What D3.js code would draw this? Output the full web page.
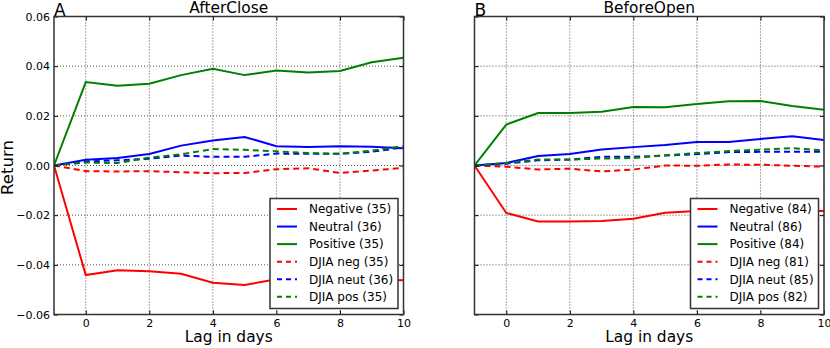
<!DOCTYPE html>
<html>
<head>
<meta charset="utf-8">
<style>
  body { margin: 0; background: #fff; }
  svg text { font-family: "DejaVu Sans", sans-serif; fill: #000; }
  .grid line { stroke: #000; stroke-width: 0.8; stroke-dasharray: 1,2; opacity: 0.85; }
</style>
</head>
<body>
<svg id="chart" width="830" height="348"></svg>
<script src="https://cdn.jsdelivr.net/npm/d3@7"></script>
<script>
// lag days
const lags = [-1, 0, 1, 2, 3, 4, 5, 6, 7, 8, 9, 10]
const xTicks = [0, 2, 4, 6, 8, 10]
const yTicks = [-0.06, -0.04, -0.02, 0.00, 0.02, 0.04, 0.06]

// panel A: AfterClose
const acNegative = [0, -0.0441, -0.0422, -0.0426, -0.0436, -0.0472, -0.0481, -0.0458, -0.0460, -0.0463, -0.0460, -0.0462]
const acNeutral  = [0, 0.0023, 0.0030, 0.0046, 0.0080, 0.0101, 0.0115, 0.0078, 0.0074, 0.0078, 0.0076, 0.0069]
const acPositive = [0, 0.0336, 0.0321, 0.0329, 0.0364, 0.0390, 0.0364, 0.0383, 0.0375, 0.0381, 0.0416, 0.0434]
const acDjiaNeg  = [0, -0.0023, -0.0024, -0.0023, -0.0027, -0.0031, -0.0030, -0.0015, -0.0011, -0.0030, -0.0020, -0.0010]
const acDjiaNeut = [0, 0.0016, 0.0021, 0.0027, 0.0040, 0.0035, 0.0035, 0.0048, 0.0047, 0.0047, 0.0055, 0.0073]
const acDjiaPos  = [0, 0.0012, 0.0010, 0.0032, 0.0045, 0.0066, 0.0063, 0.0057, 0.0050, 0.0047, 0.0060, 0.0078]

// panel B: BeforeOpen
const boNegative = [0, -0.0191, -0.0225, -0.0225, -0.0223, -0.0214, -0.0190, -0.0183, -0.0181, -0.0181, -0.0182, -0.0183]
const boNeutral  = [0, 0.0010, 0.0038, 0.0046, 0.0064, 0.0074, 0.0083, 0.0095, 0.0095, 0.0107, 0.0118, 0.0103]
const boPositive = [0, 0.0165, 0.0211, 0.0211, 0.0216, 0.0236, 0.0235, 0.0248, 0.0259, 0.0260, 0.0240, 0.0224]
const boDjiaNeg  = [0, -0.0005, -0.0016, -0.0013, -0.0024, -0.0016, 0.0000, -0.0001, 0.0004, 0.0003, -0.0001, -0.0005]
const boDjiaNeut = [0, 0.0007, 0.0021, 0.0024, 0.0035, 0.0035, 0.0040, 0.0046, 0.0054, 0.0055, 0.0055, 0.0055]
const boDjiaPos  = [0, 0.0010, 0.0024, 0.0024, 0.0028, 0.0030, 0.0041, 0.0050, 0.0058, 0.0064, 0.0070, 0.0061]

const seriesNames = ["Negative", "Neutral", "Positive", "DJIA neg", "DJIA neut", "DJIA pos"]
const seriesColors = ["#ff0000", "#0000ff", "#008000", "#ff0000", "#0000ff", "#008000"]
const seriesDashed = [false, false, false, true, true, true]
const acCounts = [35, 36, 35, 35, 36, 35]
const boCounts = [84, 86, 84, 81, 85, 82]

const panels = [
    { letter: "A", title: "AfterClose", left: 54, counts: acCounts,
      data: [acNegative, acNeutral, acPositive, acDjiaNeg, acDjiaNeut, acDjiaPos] },
    { letter: "B", title: "BeforeOpen", left: 474.5, counts: boCounts,
      data: [boNegative, boNeutral, boPositive, boDjiaNeg, boDjiaNeut, boDjiaPos] }
]

let svg = d3.select("#chart")
let plotW = 349.5
let plotH = 298
let plotTop = 16.5

let fmt = d => d3.format(".2f")(d).replace("-", "\u2212")

panels.forEach((p, pi) => {
    let g = svg.append("g").attr("transform", `translate(${p.left},${plotTop})`)

    let xScale = d3.scaleLinear().domain([-1, 10]).range([0, plotW])
    let yScale = d3.scaleLinear().domain([-0.06, 0.06]).range([plotH, 0])

    g.append("clipPath").attr("id", "clip" + pi)
        .append("rect").attr("width", plotW).attr("height", plotH)

    // grid
    let grid = g.append("g").attr("class", "grid")
    grid.selectAll(".gx").data(xTicks).enter().append("line")
        .attr("x1", d => xScale(d)).attr("x2", d => xScale(d))
        .attr("y1", 0).attr("y2", plotH)
    grid.selectAll(".gy").data(yTicks).enter().append("line")
        .attr("y1", d => yScale(d)).attr("y2", d => yScale(d))
        .attr("x1", 0).attr("x2", plotW)

    // lines
    let line = d3.line().x((d, i) => xScale(lags[i])).y(d => yScale(d))
    let lg = g.append("g").attr("clip-path", `url(#clip${pi})`)
    p.data.forEach((s, i) => {
        lg.append("path")
            .datum(s)
            .attr("d", line)
            .attr("fill", "none")
            .attr("stroke", seriesColors[i])
            .attr("stroke-width", 2)
            .attr("stroke-dasharray", seriesDashed[i] ? "6,4" : null)
    })

    // axes, ticks pointing inward
    let xAxis = d3.axisBottom(xScale).tickValues(xTicks).tickSizeInner(-4).tickSizeOuter(0).tickPadding(5)
    let xg = g.append("g").attr("transform", `translate(0,${plotH})`).call(xAxis)
    xg.select(".domain").remove()
    xg.selectAll("text").style("font-size", "11px").style("font-family", "DejaVu Sans")

    let xTop = d3.axisTop(xScale).tickValues(xTicks).tickSizeInner(-4).tickSizeOuter(0).tickFormat("")
    g.append("g").call(xTop).select(".domain").remove()

    let yAxis = d3.axisLeft(yScale).tickValues(yTicks).tickSizeInner(-4).tickSizeOuter(0).tickPadding(4)
        .tickFormat(pi == 0 ? fmt : "")
    let yg = g.append("g").call(yAxis)
    yg.select(".domain").remove()
    yg.selectAll("text").style("font-size", "11px").style("font-family", "DejaVu Sans")

    let yRight = d3.axisRight(yScale).tickValues(yTicks).tickSizeInner(-4).tickSizeOuter(0).tickFormat("")
    g.append("g").attr("transform", `translate(${plotW},0)`).call(yRight).select(".domain").remove()

    // frame
    g.append("rect").attr("width", plotW).attr("height", plotH)
        .attr("fill", "none").attr("stroke", "#333").attr("stroke-width", 1.5)

    // titles
    g.append("text").attr("x", plotW / 2).attr("y", -4).attr("text-anchor", "middle")
        .style("font-size", "15.4px").text(p.title)
    g.append("text").attr("x", 0).attr("y", -0.5).style("font-size", "17px").text(p.letter)
    g.append("text").attr("x", plotW / 2).attr("y", plotH + 27.5).attr("text-anchor", "middle")
        .style("font-size", "15.4px").text("Lag in days")

    // legend
    let leg = g.append("g").attr("transform", `translate(216,${198.5 - plotTop})`)
    leg.append("rect").attr("width", 128).attr("height", 110)
        .attr("fill", "#fff").attr("stroke", "#333").attr("stroke-width", 1.5)
    seriesNames.forEach((name, i) => {
        let yy = 10.5 + i * 17.55
        leg.append("line").attr("x1", 7).attr("x2", 27).attr("y1", yy).attr("y2", yy)
            .attr("stroke", seriesColors[i]).attr("stroke-width", 2)
            .attr("stroke-dasharray", seriesDashed[i] ? "5,4" : null)
        leg.append("text").attr("x", 39).attr("y", yy + 4.3).style("font-size", "12px")
            .text(`${name} (${p.counts[i]})`)
    })
})

svg.append("text").attr("transform", `translate(13,${plotTop + plotH / 2 + 2}) rotate(-90)`)
    .attr("text-anchor", "middle").style("font-size", "16.5px").text("Return")
</script>
</body>
</html>
